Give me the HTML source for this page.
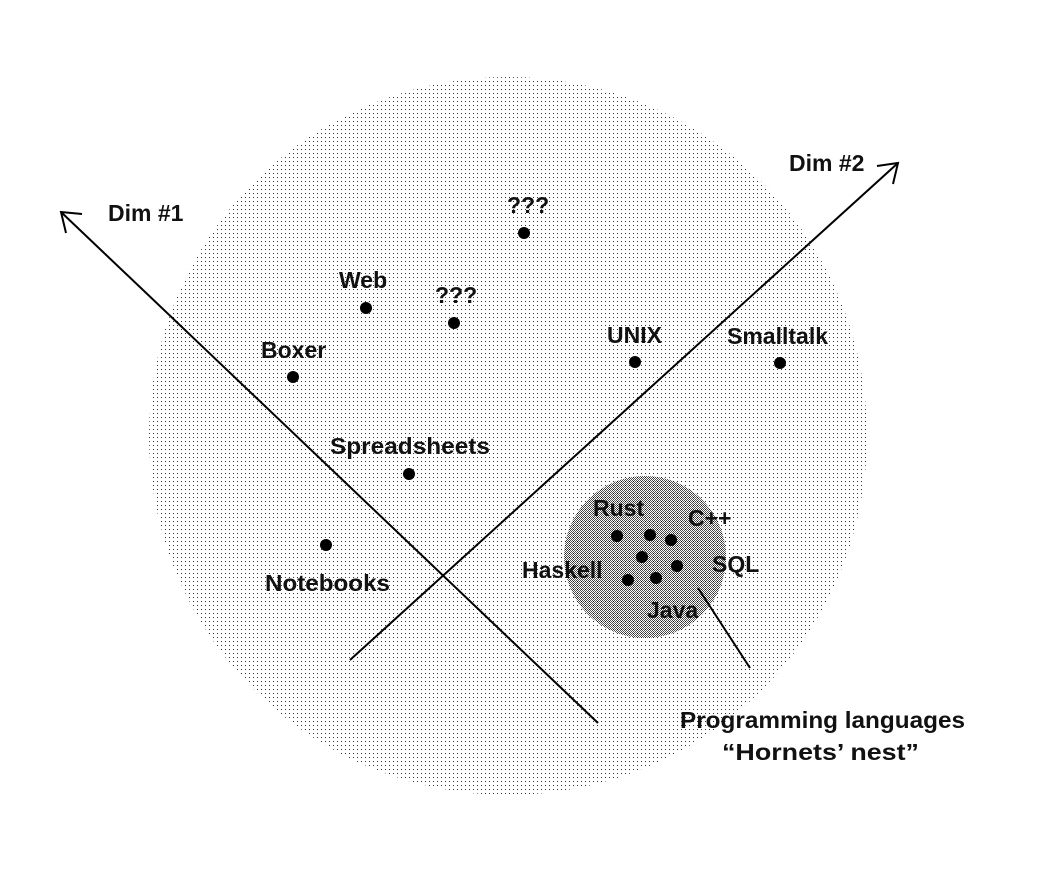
<!DOCTYPE html>
<html><head><meta charset="utf-8"><style>
html,body{margin:0;padding:0;background:#fff;}
svg{display:block;}
text{font-family:"Liberation Sans","DejaVu Sans",sans-serif;font-size:23px;font-weight:bold;fill:#111;}
</style></head><body>
<svg width="1046" height="881" viewBox="0 0 1046 881" xmlns="http://www.w3.org/2000/svg">
<defs>
<pattern id="dots" width="4" height="4" patternUnits="userSpaceOnUse">
<rect x="1" y="1" width="1" height="1" fill="#000"/>
</pattern>
<pattern id="check" width="2" height="2" patternUnits="userSpaceOnUse">
<rect width="2" height="2" fill="#fff"/>
<rect x="0" y="0" width="1" height="1" fill="#000"/>
<rect x="1" y="1" width="1" height="1" fill="#000"/>
</pattern>
</defs>
<circle cx="508" cy="436" r="359" fill="url(#dots)" opacity="0.8"/>
<circle cx="645" cy="557" r="81" fill="url(#check)" opacity="0.7"/>
<g stroke="#000" stroke-width="2" fill="none">
<line x1="598" y1="723" x2="61" y2="212"/>
<polyline points="82,214 61,212 66,233"/>
<line x1="350" y1="660" x2="898" y2="163"/>
<polyline points="877,166 898,163 893,184"/>
<line x1="698" y1="588" x2="750" y2="668"/>
</g>
<g fill="#000">
<circle cx="524" cy="233" r="6"/><circle cx="366" cy="308" r="6"/>
<circle cx="454" cy="323" r="6"/><circle cx="293" cy="377" r="6"/>
<circle cx="635" cy="362" r="6"/><circle cx="780" cy="363" r="6"/>
<circle cx="409" cy="474" r="6"/><circle cx="326" cy="545" r="6"/>
<circle cx="617" cy="536" r="6"/><circle cx="650" cy="535" r="6"/>
<circle cx="671" cy="540" r="6"/><circle cx="642" cy="557" r="6"/>
<circle cx="677" cy="566" r="6"/><circle cx="628" cy="580" r="6"/>
<circle cx="656" cy="578" r="6"/>
</g>
<text x="108" y="221">Dim #1</text>
<text x="789" y="171">Dim #2</text>
<text x="507" y="213">???</text>
<text x="339" y="288">Web</text>
<text x="435" y="303">???</text>
<text x="261" y="358">Boxer</text>
<text x="607" y="343">UNIX</text>
<text x="727" y="344">Smalltalk</text>
<text x="330" y="454" textLength="160" lengthAdjust="spacingAndGlyphs">Spreadsheets</text>
<text x="265" y="591" textLength="125" lengthAdjust="spacingAndGlyphs">Notebooks</text>
<text x="593" y="516">Rust</text>
<text x="688" y="526">C++</text>
<text x="522" y="578">Haskell</text>
<text x="712" y="572">SQL</text>
<text x="647" y="618">Java</text>
<text x="680" y="728" textLength="285" lengthAdjust="spacingAndGlyphs">Programming languages</text>
<text x="722" y="760" textLength="197" lengthAdjust="spacingAndGlyphs">“Hornets’ nest”</text>
</svg>
</body></html>
